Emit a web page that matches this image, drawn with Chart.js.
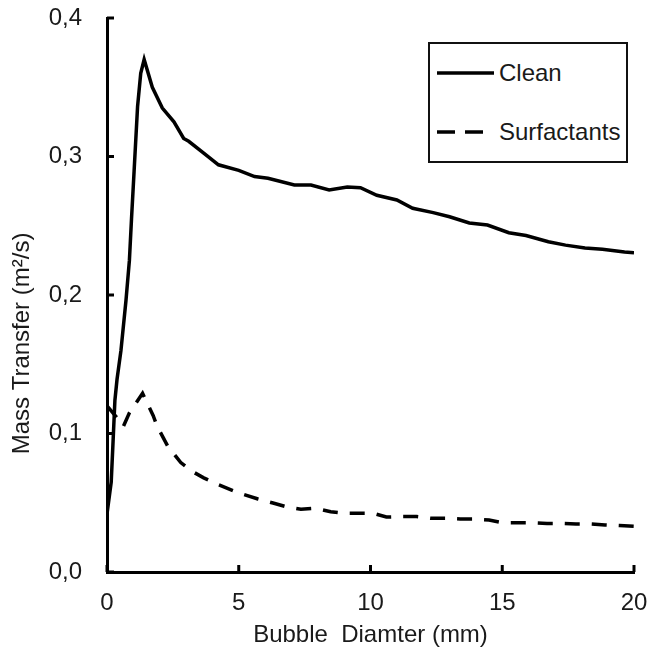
<!DOCTYPE html>
<html>
<head>
<meta charset="utf-8">
<script src="https://cdn.jsdelivr.net/npm/chart.js@4"></script>
<style>
  body { margin: 0; background: #fff; }
  #wrap { position: relative; width: 649px; height: 650px; }
  #legend {
    position: absolute; left: 428px; top: 42px; width: 196px; height: 117px;
    border: 2px solid #111; background: #fff;
    font-family: "Liberation Sans", Arial, sans-serif; font-size: 24px; color: #1a1a1a;
  }
  .row { position: absolute; left: 7px; height: 28px; display: flex; align-items: center; }
  .row svg { margin-right: 5px; }
</style>
</head>
<body>
<div id="wrap">
  <canvas id="chart" width="649" height="650"></canvas>
  <div id="legend">
    <div class="row" style="top:15px">
      <svg width="57" height="6"><line x1="0" y1="3" x2="57" y2="3" stroke="#000" stroke-width="3.5"/></svg>Clean
    </div>
    <div class="row" style="top:74px">
      <svg width="57" height="6"><line x1="0" y1="3" x2="46" y2="3" stroke="#000" stroke-width="3.5" stroke-dasharray="18 10"/></svg>Surfactants
    </div>
  </div>
</div>
<script>
const cleanX = [0, 0.07, 0.16, 0.22, 0.3, 0.38, 0.53, 0.72, 0.85, 0.93, 1.03, 1.16, 1.28, 1.41, 1.72, 2.1, 2.54, 2.91, 3.1, 3.67, 4.23, 5.0, 5.6, 6.11, 7.11, 7.74, 8.43, 9.12, 9.62, 10.24, 11.0, 11.6, 12.38, 13.0, 13.75, 14.44, 15.25, 15.9, 16.75, 17.4, 18.14, 18.8, 19.64, 20];
const cleanY = [0.065, 0.052, 0.065, 0.09, 0.124, 0.139, 0.160, 0.196, 0.225, 0.255, 0.29, 0.336, 0.36, 0.370, 0.350, 0.335, 0.325, 0.313, 0.311, 0.3025, 0.294, 0.29, 0.2855, 0.2843, 0.2794, 0.2794, 0.2758, 0.278, 0.2775, 0.272, 0.2686, 0.2626, 0.2595, 0.2565, 0.252, 0.2505, 0.245, 0.243, 0.2385, 0.236, 0.234, 0.233, 0.231, 0.2305];

const surfX = [0, 0.35, 0.62, 0.85, 1.35, 1.75, 1.91, 2.3, 2.8, 3.2, 3.67, 4.23, 4.95, 5.73, 6.3, 6.8, 7.36, 7.92, 8.49, 9.0, 9.56, 10.1, 10.6, 11.2, 11.75, 12.3, 12.9, 13.4, 13.9, 14.5, 15.0, 15.6, 16.1, 16.7, 17.2, 17.8, 18.3, 18.9, 19.45, 20];
const surfY = [0.12, 0.112, 0.105, 0.115, 0.129, 0.113, 0.105, 0.091, 0.079, 0.073, 0.068, 0.063, 0.0575, 0.0527, 0.0498, 0.0471, 0.0453, 0.046, 0.0435, 0.0424, 0.0424, 0.0424, 0.0397, 0.040, 0.040, 0.0388, 0.0388, 0.0383, 0.0383, 0.0375, 0.0356, 0.0356, 0.0356, 0.0351, 0.0351, 0.0347, 0.0347, 0.034, 0.0335, 0.033];

const xTicks = [0, 5, 10, 15, 20];
const yTicks = [0, 0.1, 0.2, 0.3, 0.4];
const yTitle = 'Mass Transfer (m²/s)';

const FONT = '"Liberation Sans", Arial, sans-serif';
const TEXT = '#1a1a1a';

function toPoints(xs, ys) {
  return xs.map((x, i) => ({ x: x, y: ys[i] }));
}

// excel style ticks pointing into the plot + y title sitting a bit low like the original
const axisExtras = {
  id: 'axisExtras',
  afterDraw(chart) {
    const { ctx, chartArea, scales } = chart;
    ctx.save();
    ctx.strokeStyle = '#000';
    ctx.lineWidth = 3;
    xTicks.forEach(v => {
      const px = scales.x.getPixelForValue(v);
      ctx.beginPath();
      ctx.moveTo(px, chartArea.bottom);
      ctx.lineTo(px, chartArea.bottom - 7);
      ctx.stroke();
    });
    yTicks.forEach(v => {
      const py = scales.y.getPixelForValue(v);
      ctx.beginPath();
      ctx.moveTo(chartArea.left, py);
      ctx.lineTo(chartArea.left + 7, py);
      ctx.stroke();
    });

    ctx.translate(22, scales.y.getPixelForValue(0.165));
    ctx.rotate(-Math.PI / 2);
    ctx.font = '24px ' + FONT;
    ctx.fillStyle = TEXT;
    ctx.textAlign = 'center';
    ctx.textBaseline = 'middle';
    ctx.fillText(yTitle, 0, 0);
    ctx.restore();
  }
};

const ctx = document.getElementById('chart').getContext('2d');
new Chart(ctx, {
  type: 'scatter',
  data: {
    datasets: [{
      label: 'Clean',
      data: toPoints(cleanX, cleanY),
      showLine: true,
      borderColor: '#000',
      borderWidth: 3.5,
      pointRadius: 0,
      tension: 0
    }, {
      label: 'Surfactants',
      data: toPoints(surfX, surfY),
      showLine: true,
      borderColor: '#000',
      borderWidth: 3.5,
      borderDash: [15, 12],
      pointRadius: 0,
      tension: 0
    }]
  },
  options: {
    responsive: false,
    animation: false,
    layout: { padding: { left: 0, top: 18, right: 15, bottom: 0 } },
    plugins: {
      legend: { display: false },
      tooltip: { enabled: false }
    },
    scales: {
      x: {
        type: 'linear',
        min: 0,
        max: 20,
        afterBuildTicks: s => { s.ticks = xTicks.map(v => ({ value: v })); },
        afterFit: s => { s.height = 78; s.paddingLeft = 0; s.paddingRight = 0; },
        grid: { drawOnChartArea: false, drawTicks: false },
        border: { color: '#000', width: 3 },
        ticks: { color: TEXT, padding: 17, maxRotation: 0, font: { family: FONT, size: 24 } },
        title: { display: true, text: 'Bubble  Diamter (mm)', color: TEXT, padding: { top: 0, bottom: 0 }, font: { family: FONT, size: 24 } }
      },
      y: {
        min: 0,
        max: 0.4,
        afterBuildTicks: s => { s.ticks = yTicks.map(v => ({ value: v })); },
        afterFit: s => { s.width = 107; s.paddingTop = 0; s.paddingBottom = 0; },
        grid: { drawOnChartArea: false, drawTicks: false },
        border: { color: '#000', width: 3 },
        ticks: {
          color: TEXT, padding: 25, font: { family: FONT, size: 24 },
          callback: v => v.toFixed(1).replace('.', ',')
        },
        title: { display: false }
      }
    }
  },
  plugins: [axisExtras]
});
</script>
</body>
</html>
